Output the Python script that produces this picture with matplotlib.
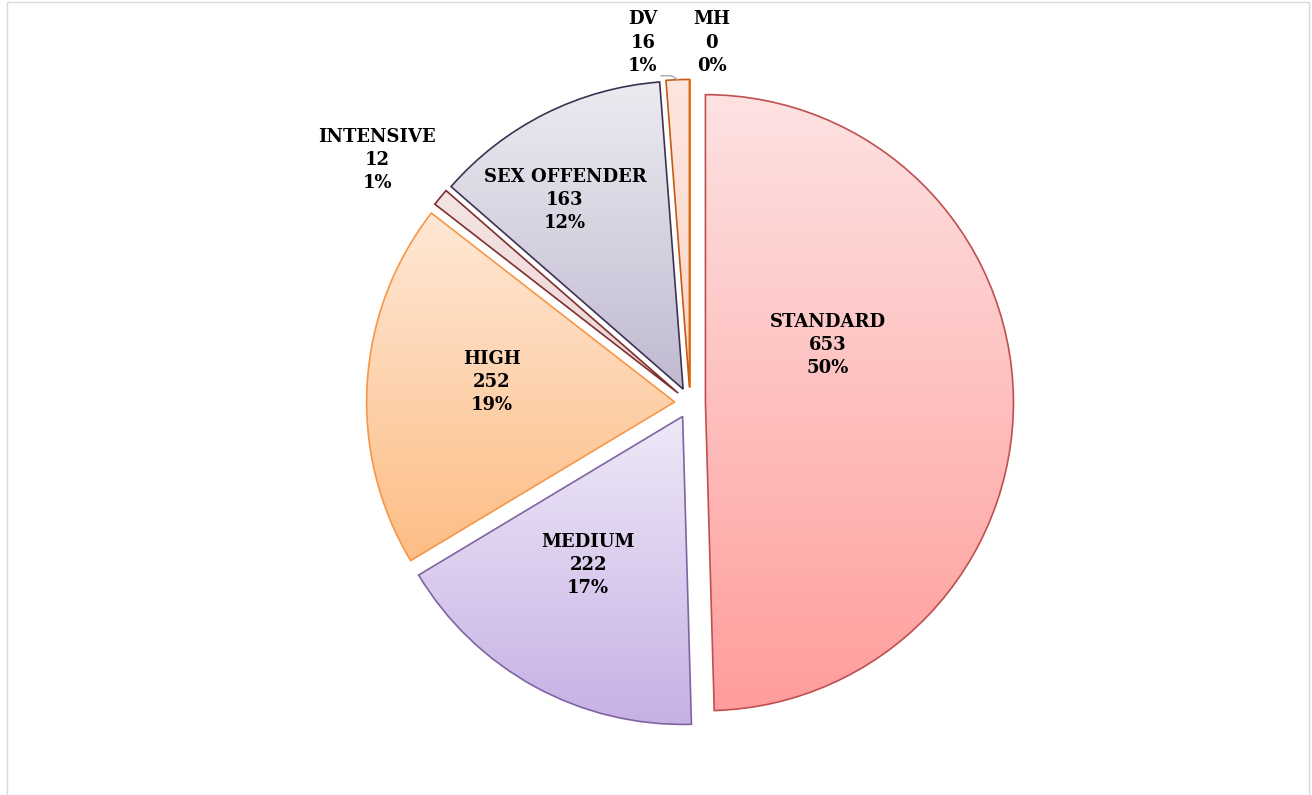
import numpy as np
import matplotlib.pyplot as plt
from matplotlib.colors import to_rgb
from matplotlib.patches import Rectangle

# 数据
labels = ['STANDARD', 'MEDIUM', 'HIGH', 'INTENSIVE', 'SEX OFFENDER', 'DV', 'MH']
counts = [653, 222, 252, 12, 163, 16, 0]

# 渐变颜色 (上 -> 下) 和边框颜色
top_colors = ['#fde2e2', '#eee8f7', '#ffe8d6', '#f4e4e4', '#ecebf1', '#fde6df', '#fde6df']
bottom_colors = ['#ff9d9b', '#c7b1e5', '#fdbd85', '#ecd4d3', '#c0bad1', '#fcd4c6', '#fcd4c6']
edge_colors = ['#c0504d', '#8064a2', '#f79646', '#7f2f2d', '#3f3151', '#c55a11', '#e46c0a']

# 标签位置 (饼图半径 = 1)
label_pos = [(0.448, 0.188), (-0.331, -0.526), (-0.643, 0.068), (-1.016, 0.789),
             (-0.406, 0.659), (-0.153, 1.169), (0.071, 1.169)]

total = sum(counts)

fig = plt.figure(figsize=(13.12, 7.95), dpi=100)
ax = fig.add_axes([0, 0, 1, 1])

wedges, _ = ax.pie(counts, startangle=90, counterclock=False,
                   explode=[0.05] * len(counts), radius=1,
                   wedgeprops=dict(linewidth=1.2))

# 渐变填充
for w, c, tc, bc, ec in zip(wedges, counts, top_colors, bottom_colors, edge_colors):
    w.set_edgecolor(ec)
    w.set_facecolor('none')
    if c == 0:
        continue
    verts = w.get_path().vertices
    x0, y0 = verts.min(axis=0)
    x1, y1 = verts.max(axis=0)
    t = np.linspace(0, 1, 256)[:, None]
    grad = (1 - t) * np.array(to_rgb(tc)) + t * np.array(to_rgb(bc))
    grad = grad[:, None, :]
    im = ax.imshow(grad, extent=[x0, x1, y0, y1], origin='upper',
                   aspect='auto', zorder=0.5, interpolation='bilinear')
    im.set_clip_path(w)

# 标签
for lab, c, (lx, ly) in zip(labels, counts, label_pos):
    pct = round(100 * c / total)
    ax.text(lx, ly, f'{lab}\n{c}\n{pct}%', ha='center', va='center',
            fontsize=13, fontweight='bold', family='DejaVu Serif',
            linespacing=1.38, color='black', zorder=5)

# DV 引导线
dv = wedges[5]
ang = np.deg2rad((dv.theta1 + dv.theta2) / 2)
px = dv.center[0] + dv.r * np.cos(ang)
py = dv.center[1] + dv.r * np.sin(ang)
ax.plot([-0.094, px - 0.02, px], [1.062, 1.062, py], color='#a6a6a6', lw=1, zorder=4)

ax.set_xlim(-2.240, 2.019)
ax.set_ylim(-1.273, 1.308)
ax.set_aspect('equal')
ax.axis('off')

# 图表边框
fig.patches.append(Rectangle((7 / 1312, -0.01), 1302 / 1312, 1.01 - 2 / 795,
                             transform=fig.transFigure, fill=False,
                             edgecolor='#d9d9d9', lw=1))

fig.savefig('out.png', dpi=100)
